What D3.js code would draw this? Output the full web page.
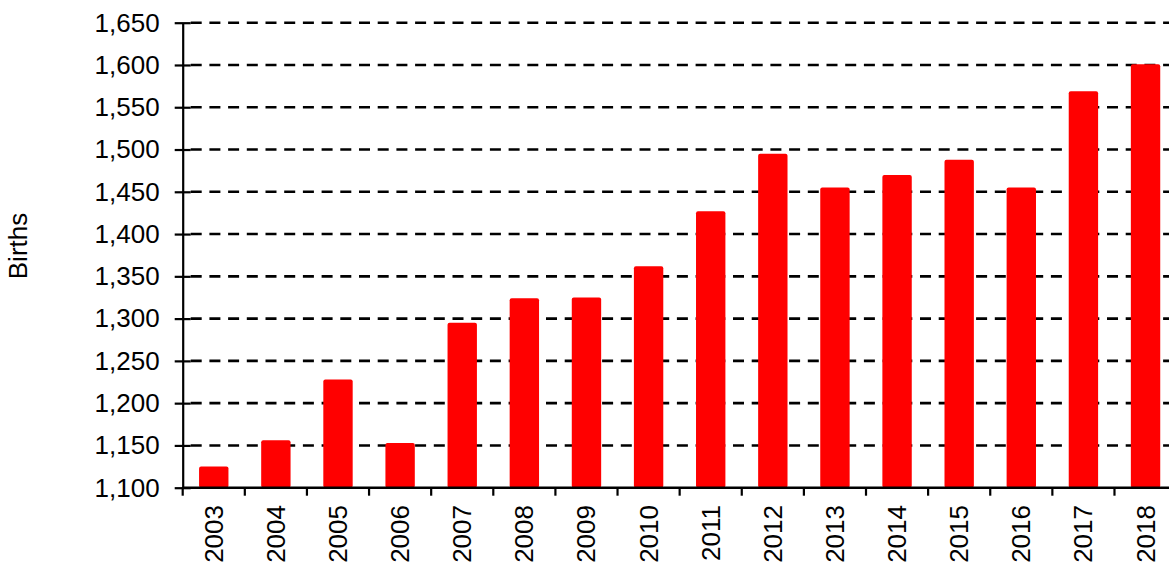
<!DOCTYPE html>
<html><head><meta charset="utf-8">
<script src="https://cdn.jsdelivr.net/npm/d3@7"></script>
<style>
html,body{margin:0;padding:0;background:#fff;overflow:hidden}
text{font-family:"Liberation Sans",Arial,sans-serif;fill:#000}
</style></head>
<body>
<svg id="chart" width="1169" height="564"></svg>
<script>
const years = ["2003","2004","2005","2006","2007","2008","2009","2010","2011","2012","2013","2014","2015","2016","2017","2018"];
const births = [1125,1156,1228,1153,1295,1324,1325,1362,1427,1495,1455,1470,1488,1455,1569,1601];
const yTicks = [1100,1150,1200,1250,1300,1350,1400,1450,1500,1550,1600,1650];
const yLabel = "Births";

(function(){
const svg = d3.select("#chart");
const pLeft = 182.7, pRight = 1176.6, pTop = 22.7, pBottom = 487.7;

const x = d3.scaleBand().domain(years).range([pLeft, pRight]).paddingInner(0.527).paddingOuter(0.2635);
const y = d3.scaleLinear().domain([1100,1650]).range([pBottom, pTop]);
const fmt = d3.format(",");

// gridlines
svg.append("g").selectAll("line").data(yTicks.slice(1)).join("line")
  .attr("x1", pLeft + 8).attr("x2", 1169)
  .attr("y1", d => y(d)).attr("y2", d => y(d))
  .attr("stroke", "#000").attr("stroke-width", 2.6)
  .attr("stroke-dasharray", "11,7.7");

// bars
svg.append("g").selectAll("rect").data(years).join("rect")
  .attr("x", (d) => x(d))
  .attr("width", x.bandwidth())
  .attr("y", (d,i) => y(births[i]))
  .attr("height", (d,i) => pBottom - y(births[i]))
  .attr("rx", 2).attr("ry", 2)
  .attr("fill", "#ff0000");

// y axis
const yAxis = d3.axisLeft(y).tickValues(yTicks).tickFormat(fmt).tickSizeInner(8).tickSizeOuter(0).tickPadding(15);
const gy = svg.append("g").attr("transform", `translate(${pLeft},0)`).call(yAxis);
gy.select(".domain").attr("stroke", "#000").attr("stroke-width", 2.2);
gy.selectAll(".tick line").attr("x2", 8).attr("x1", -8).attr("stroke", "#000").attr("stroke-width", 2.2);
gy.selectAll(".tick text").attr("x", -23).attr("font-size", 26).attr("font-family", "Liberation Sans, Arial, sans-serif").attr("fill", "#000");

// x axis line
svg.append("line").attr("x1", pLeft).attr("x2", 1169).attr("y1", pBottom).attr("y2", pBottom)
  .attr("stroke", "#000").attr("stroke-width", 2.6);

// x boundary ticks
const step = x.step();
const bounds = d3.range(years.length + 1).map(i => pLeft + i * step);
svg.append("g").selectAll("line").data(bounds).join("line")
  .attr("x1", d => d).attr("x2", d => d)
  .attr("y1", pBottom).attr("y2", pBottom + 8)
  .attr("stroke", "#000").attr("stroke-width", 2.2);

// x labels
svg.append("g").selectAll("text").data(years).join("text")
  .attr("transform", d => `translate(${x(d) + x.bandwidth()/2},505) rotate(-90)`)
  .attr("text-anchor", "end")
  .attr("dominant-baseline", "central")
  .attr("font-size", 26)
  .text(d => d);

// y label
svg.append("text")
  .attr("transform", "translate(18,246) rotate(-90)")
  .attr("text-anchor", "middle")
  .attr("dominant-baseline", "central")
  .attr("font-size", 26)
  .text(yLabel);
})();
</script>
</body></html>
